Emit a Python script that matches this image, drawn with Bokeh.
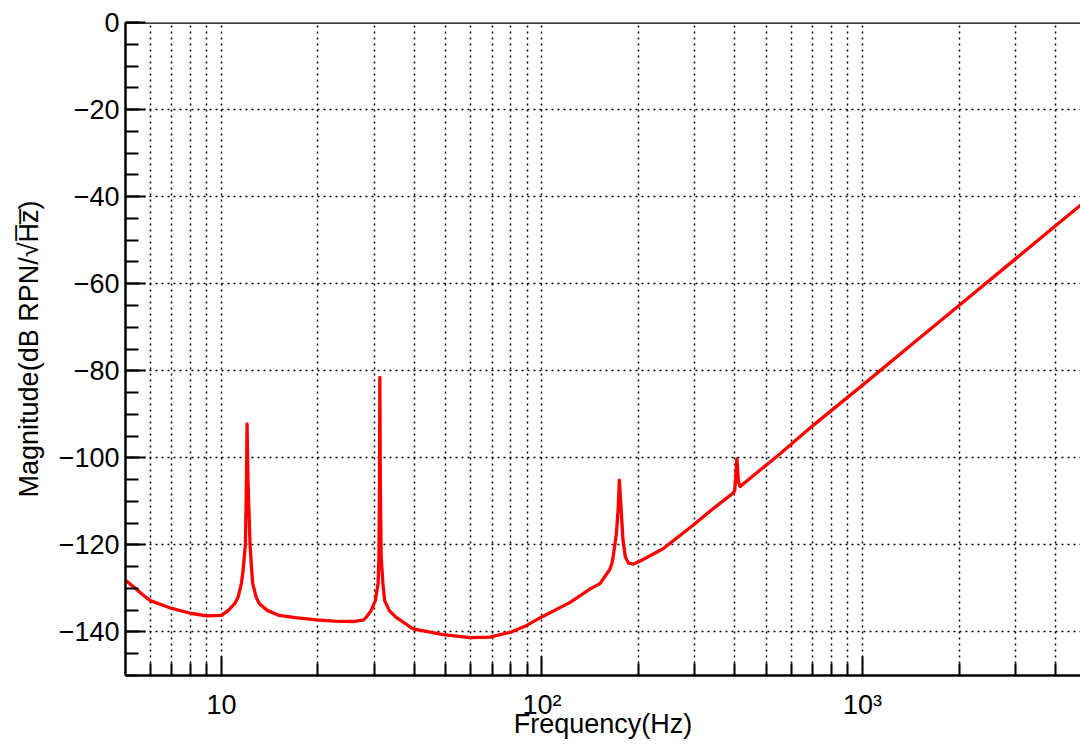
from bokeh.plotting import figure
from bokeh.models import Range1d, FixedTicker, SingleIntervalTicker, Span, ColumnDataSource
from bokeh.embed import file_html
from bokeh.resources import INLINE

# ---- data ----
freq_hz = [5.0, 5.4, 5.67, 6.0, 7.0, 8.0, 9.0, 10.0, 10.49, 11.0, 11.27, 11.54, 11.68, 11.88,
           11.97, 12.02, 12.1, 12.28, 12.43, 12.52, 12.83, 13.13, 13.94, 15.15, 17.0, 19.8,
           22.5, 25.8, 27.8, 28.3, 29.3, 30.2, 30.8, 31.0, 31.12, 31.2, 31.3, 31.5, 31.9,
           32.3, 33.4, 35.0, 39.6, 49.2, 59.6, 68.8, 79.5, 89.6, 99.5, 122.4, 141.4, 151.7,
           162.9, 165.0, 166.7, 170.6, 173.0, 174.3, 176.4, 179.0, 182.0, 186.2, 193.0, 202.5,
           238.6, 296.0, 341.6, 394.7, 399.4, 405.6, 410.0, 415.0, 552.0, 700.0, 1000.0,
           1500.0, 2000.0, 3000.0, 4500.0, 4800.0]
magnitude_db = [-128.0, -130.0, -131.4, -132.8, -134.6, -135.7, -136.3, -136.2, -135.1, -133.5,
                -132.0, -128.9, -125.9, -119.8, -105.0, -92.2, -105.0, -119.8, -125.9, -128.9,
                -132.0, -133.5, -135.1, -136.2, -136.7, -137.2, -137.5, -137.6, -137.2, -136.6,
                -135.1, -132.8, -128.9, -122.8, -105.0, -81.5, -105.0, -122.8, -128.9, -132.8,
                -135.1, -136.6, -139.3, -140.6, -141.3, -141.2, -140.1, -138.5, -136.6, -133.2,
                -130.1, -128.9, -125.6, -124.4, -122.8, -117.5, -111.3, -105.1, -111.3, -119.0,
                -122.8, -124.2, -124.4, -123.7, -120.9, -115.5, -111.7, -108.1, -107.5, -100.2,
                -105.5, -106.6, -99.1, -92.6, -83.3, -72.6, -65.0, -54.3, -43.6, -41.9]

x_major_ticks = [10, 100, 1000]
x_major_labels = ["10", "10\u00b2", "10\u00b3"]
x_minor_ticks = [6, 7, 8, 9, 20, 30, 40, 50, 60, 70, 80, 90,
                 200, 300, 400, 500, 600, 700, 800, 900, 2000, 3000, 4000]
y_major_ticks = [0, -20, -40, -60, -80, -100, -120, -140]
y_major_labels = ["0", "\u221220", "\u221240", "\u221260", "\u221280", "\u2212100", "\u2212120", "\u2212140"]

x_title = "Frequency(Hz)"
y_title = "Magnitude(dB RPN/\u221aH\u0305z\u0305)"

FONT = "Liberation Sans"

p = figure(width=1080, height=744, x_axis_type="log",
           x_range=Range1d(5.02, 4786), y_range=Range1d(-150, 0),
           output_backend="svg", toolbar_location=None,
           min_border_left=125, min_border_right=0, min_border_top=22, min_border_bottom=69)
p.outline_line_color = None
p.background_fill_color = "white"
p.border_fill_color = "white"

src = ColumnDataSource(data=dict(f=freq_hz, m=magnitude_db))
p.line("f", "m", source=src, line_color="#ff0000", line_width=3.3, line_join="round")

# top border line
p.add_layout(Span(location=0, dimension="width", line_color="black", line_width=2.5))

# x axis
xa = p.xaxis[0]
xa.ticker = FixedTicker(ticks=x_major_ticks, minor_ticks=x_minor_ticks)
xa.major_label_overrides = dict(zip(x_major_ticks, x_major_labels))
xa.axis_label = x_title

# y axis
ya = p.yaxis[0]
ya.ticker = SingleIntervalTicker(interval=20, num_minor_ticks=4)
ya.major_label_overrides = dict(zip(y_major_ticks, y_major_labels))
ya.axis_label = y_title

for ax in (xa, ya):
    ax.axis_line_color = "black"
    ax.axis_line_width = 2.5
    ax.major_tick_line_color = "black"
    ax.minor_tick_line_color = "black"
    ax.major_tick_line_width = 2
    ax.minor_tick_line_width = 2
    ax.major_tick_out = 0
    ax.minor_tick_out = 0
    ax.major_label_text_font = FONT
    ax.major_label_text_font_size = "27px"
    ax.major_label_text_color = "black"
    ax.axis_label_text_font = FONT
    ax.axis_label_text_font_size = "27px"
    ax.axis_label_text_font_style = "normal"
    ax.axis_label_text_color = "black"

xa.major_tick_in = 19
xa.minor_tick_in = 12
xa.major_label_standoff = 14
xa.axis_label_standoff = -14

ya.major_tick_in = 20
ya.minor_tick_in = 13
ya.major_label_standoff = 6
ya.axis_label_standoff = 12

# grids
p.xgrid.ticker = FixedTicker(ticks=x_major_ticks + x_minor_ticks)
p.ygrid.ticker = SingleIntervalTicker(interval=20)
for g in (p.xgrid, p.ygrid):
    g.grid_line_color = "black"
    g.grid_line_dash = "2 4"
    g.grid_line_width = 1.5

open("out.html", "w").write(file_html(p, INLINE))
